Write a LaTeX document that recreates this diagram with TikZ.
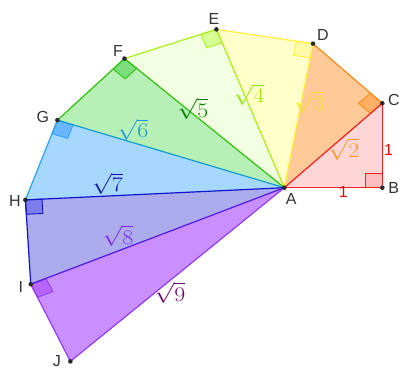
\documentclass[tikz,border=0pt]{standalone}
\usepackage{amsmath,amssymb}
\usepackage{exscale}
\usepackage{graphicx}
\usepackage{xcolor}
\usepackage{fontspec}
\setsansfont{Liberation Sans}
\usepackage{tikz}
\usetikzlibrary{calc}

\newcommand{\sidelen}[1]{\scalebox{1.15}[1]{$\sqrt{#1}$}}

\definecolor{edge1}{RGB}{255,30,30}
\definecolor{edge2}{RGB}{255,135,20}
\definecolor{edge3}{RGB}{255,238,60}
\definecolor{edge4}{RGB}{170,240,20}
\definecolor{edge5}{RGB}{45,195,10}
\definecolor{edge6}{RGB}{45,160,250}
\definecolor{edge6b}{RGB}{20,155,210}
\definecolor{edge7}{RGB}{15,20,205}
\definecolor{edge8}{RGB}{80,25,225}
\definecolor{edge9}{RGB}{145,60,250}
\definecolor{fill1}{RGB}{255,214,214}
\definecolor{fill2}{RGB}{255,201,152}
\definecolor{fill3}{RGB}{255,255,202}
\definecolor{fill4}{RGB}{242,255,224}
\definecolor{fill5}{RGB}{182,240,182}
\definecolor{fill6}{RGB}{166,216,255}
\definecolor{fill7}{RGB}{172,172,236}
\definecolor{fill8}{RGB}{201,142,255}
\definecolor{mark1}{RGB}{255,190,190}
\definecolor{mark2}{RGB}{255,176,100}
\definecolor{mark3}{RGB}{255,250,170}
\definecolor{mark4}{RGB}{215,255,150}
\definecolor{mark5}{RGB}{125,222,125}
\definecolor{mark6}{RGB}{105,182,255}
\definecolor{mark7}{RGB}{125,125,235}
\definecolor{mark8}{RGB}{182,102,255}
\definecolor{text1}{RGB}{235,0,0}
\definecolor{text2}{RGB}{255,150,30}
\definecolor{text3}{RGB}{245,225,40}
\definecolor{text4}{RGB}{150,228,0}
\definecolor{text5}{RGB}{0,125,0}
\definecolor{text6}{RGB}{30,150,230}
\definecolor{text7}{RGB}{20,20,170}
\definecolor{text8}{RGB}{130,40,230}
\definecolor{text9}{RGB}{110,0,110}
\definecolor{dotgray}{RGB}{40,40,40}
\definecolor{labelgray}{RGB}{50,50,50}

\begin{document}
\begin{tikzpicture}[x=98pt, y=84.4pt,
  dot/.style={circle, fill=dotgray, inner sep=0pt, minimum size=4.6pt},
  ptlabel/.style={font=\sffamily\fontsize{16}{18}\selectfont, text=labelgray, inner sep=0pt},
  sidelabel/.style={font=\huge, inner sep=0pt},
  edge/.style={line width=1.2pt, line join=round, line cap=round},
  rmark/.style={line width=0.9pt, line join=miter}]
\useasboundingbox (-284.3pt,-181.3pt) rectangle (114.7pt,187.7pt);

\coordinate (A) at (0,0);
\coordinate (B) at (1,0);
\coordinate (C) at (1,1);
\coordinate (D) at (0.2929,1.7071);
\coordinate (E) at (-0.6927,1.8762);
\coordinate (F) at (-1.6308,1.5298);
\coordinate (G) at (-2.3150,0.8005);
\coordinate (H) at (-2.6418,-0.1446);
\coordinate (I) at (-2.5871,-1.1431);
\coordinate (J) at (-2.1829,-2.0578);

% triangles
\fill[fill1] (A) -- (B) -- (C) -- cycle;
\fill[fill2] (A) -- (C) -- (D) -- cycle;
\fill[fill3] (A) -- (D) -- (E) -- cycle;
\fill[fill4] (A) -- (E) -- (F) -- cycle;
\fill[fill5] (A) -- (F) -- (G) -- cycle;
\fill[fill6] (A) -- (G) -- (H) -- cycle;
\fill[fill7] (A) -- (H) -- (I) -- cycle;
\fill[fill8] (A) -- (I) -- (J) -- cycle;

% right angles
\filldraw[rmark, draw=edge1, fill=mark1] (B) -- ($(B)!.17!(A)$) -- ($(B)!.17!(A)+(B)!.17!(C)-(B)$) -- ($(B)!.17!(C)$) -- cycle;
\filldraw[rmark, draw=edge2, fill=mark2] (C) -- ($(C)!.120!(A)$) -- ($(C)!.120!(A)+(C)!.17!(D)-(C)$) -- ($(C)!.17!(D)$) -- cycle;
\filldraw[rmark, draw=edge3, fill=mark3] (D) -- ($(D)!.098!(A)$) -- ($(D)!.098!(A)+(D)!.17!(E)-(D)$) -- ($(D)!.17!(E)$) -- cycle;
\filldraw[rmark, draw=edge4, fill=mark4] (E) -- ($(E)!.085!(A)$) -- ($(E)!.085!(A)+(E)!.17!(F)-(E)$) -- ($(E)!.17!(F)$) -- cycle;
\filldraw[rmark, draw=edge5, fill=mark5] (F) -- ($(F)!.076!(A)$) -- ($(F)!.076!(A)+(F)!.17!(G)-(F)$) -- ($(F)!.17!(G)$) -- cycle;
\filldraw[rmark, draw=edge6, fill=mark6] (G) -- ($(G)!.069!(A)$) -- ($(G)!.069!(A)+(G)!.17!(H)-(G)$) -- ($(G)!.17!(H)$) -- cycle;
\filldraw[rmark, draw=edge7, fill=mark7] (H) -- ($(H)!.064!(A)$) -- ($(H)!.064!(A)+(H)!.17!(I)-(H)$) -- ($(H)!.17!(I)$) -- cycle;
\filldraw[rmark, draw=edge9, fill=mark8] (I) -- ($(I)!.060!(A)$) -- ($(I)!.060!(A)+(I)!.17!(J)-(I)$) -- ($(I)!.17!(J)$) -- cycle;

% outer legs
\draw[edge, edge1] (A) -- (B) -- (C);
\draw[edge, edge2] (C) -- (D);
\draw[edge, edge3] (D) -- (E);
\draw[edge, edge4] (E) -- (F);
\draw[edge, edge5] (F) -- (G);
\draw[edge, edge6] (G) -- (H);
\draw[edge, edge7] (H) -- (I);
\draw[edge, edge9] (I) -- (J);
% hypotenuses
\draw[edge, edge1] (A) -- (C);
\draw[edge, edge3] (A) -- (D);
\draw[edge, edge4] (A) -- (E);
\draw[edge, edge5] (A) -- (F);
\draw[edge, edge6b] (A) -- (G);
\draw[edge, edge7] (A) -- (H);
\draw[edge, edge8] (A) -- (I);
\draw[edge, edge9] (A) -- (J);

% points
\node[dot] (dA) at (A) {};
\node[dot] (dB) at (B) {};
\node[dot] (dC) at (C) {};
\node[dot] (dD) at (D) {};
\node[dot] (dE) at (E) {};
\node[dot] (dF) at (F) {};
\node[dot] (dG) at (G) {};
\node[dot] (dH) at (H) {};
\node[dot] (dI) at (I) {};
\node[dot] (dJ) at (J) {};

\node[ptlabel] (lA) at ($(A)+(7pt,-11pt)$) {A};
\node[ptlabel] (lB) at ($(B)+(11.5pt,0pt)$) {B};
\node[ptlabel] (lC) at ($(C)+(11.5pt,3pt)$) {C};
\node[ptlabel] (lD) at ($(D)+(10pt,9pt)$) {D};
\node[ptlabel] (lE) at ($(E)+(-2.5pt,10.5pt)$) {E};
\node[ptlabel] (lF) at ($(F)+(-6.5pt,7.5pt)$) {F};
\node[ptlabel] (lG) at ($(G)+(-14.5pt,3pt)$) {G};
\node[ptlabel] (lH) at ($(H)+(-10.5pt,-1pt)$) {H};
\node[ptlabel] (lI) at ($(I)+(-10pt,-3pt)$) {I};
\node[ptlabel] (lJ) at ($(J)+(-13.5pt,0pt)$) {J};

% lengths
\node[ptlabel, text=text1] (sAB) at ($(A)+(59pt,-4.5pt)$) {1};
\node[ptlabel, text=text1] (sBC) at ($(A)+(104.2pt,37.7pt)$) {1};
\node[sidelabel, text=text2] (s2) at ($(A)+(59.5pt,38.5pt)$) {\sidelen{2}};
\node[sidelabel, text=text3] (s3) at ($(A)+(24.7pt,85.5pt)$) {\sidelen{3}};
\node[sidelabel, text=text4] (s4) at ($(A)+(-35.3pt,93pt)$) {\sidelen{4}};
\node[sidelabel, text=text5] (s5) at ($(A)+(-91.3pt,78.7pt)$) {\sidelen{5}};
\node[sidelabel, text=text6] (s6) at ($(A)+(-151.3pt,58pt)$) {\sidelen{6}};
\node[sidelabel, text=text7] (s7) at ($(A)+(-176.8pt,4pt)$) {\sidelen{7}};
\node[sidelabel, text=text8] (s8) at ($(A)+(-166.3pt,-48.3pt)$) {\sidelen{8}};
\node[sidelabel, text=text9] (s9) at ($(A)+(-114.3pt,-105.3pt)$) {\sidelen{9}};
\end{tikzpicture}
\end{document}
